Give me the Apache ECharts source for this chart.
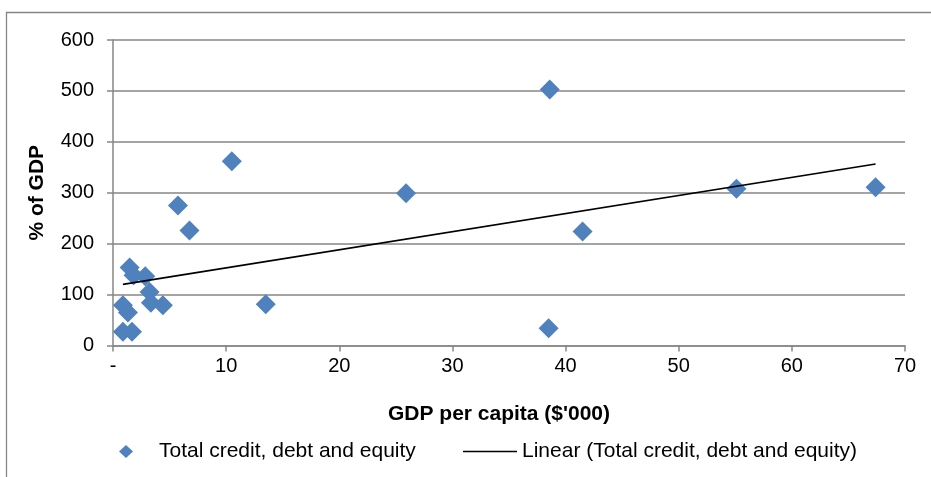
<!DOCTYPE html>
<html>
<head>
<meta charset="utf-8">
<script src="https://cdn.jsdelivr.net/npm/echarts@6/dist/echarts.min.js"></script>
<style>
html,body{margin:0;padding:0;background:#fff;}
#chart{width:931px;height:477px;}
</style>
</head>
<body>
<div id="chart"></div>
<script>
// Data
var gdpPerCapita = [0.88, 1.32, 0.88, 1.68, 1.47, 1.82, 2.85, 3.23, 3.35, 4.41, 5.74, 6.76, 10.5, 13.5, 25.9, 38.6, 38.5, 41.5, 55.1, 67.4];
var pctOfGdp     = [79, 65, 27, 27, 153, 138, 136, 105, 84, 79, 275, 226, 362, 81, 299, 503, 34, 224, 308, 311];
var trendX = [0.88, 67.4];
var trendY = [120, 356.5];
var seriesName = 'Total credit, debt and equity';
var trendName = 'Linear (Total credit, debt and equity)';
var xTickLabels = ['-', '10', '20', '30', '40', '50', '60', '70'];

var FONT = 'Liberation Sans, Arial, sans-serif';
var FS = 21;
var FS_TICK = 20;

var scatterData = gdpPerCapita.map(function (x, i) { return [x, pctOfGdp[i]]; });
var trendData = trendX.map(function (x, i) { return [x, trendY[i]]; });

var chart = echarts.init(document.getElementById('chart'), null, {renderer: 'canvas'});
chart.setOption({
  animation: false,
  backgroundColor: '#ffffff',
  graphic: [{
    type: 'rect',
    shape: {x: 6.5, y: 12.5, width: 1000, height: 600},
    style: {fill: 'none', stroke: '#868686', lineWidth: 1.3},
    silent: true
  }],
  grid: {left: 113, right: 26, top: 40, bottom: 131.5, containLabel: false},
  legend: [{
    data: [{name: seriesName, icon: 'diamond'}],
    left: 114, top: 436, padding: 5,
    itemWidth: 14, itemHeight: 13,
    textStyle: {fontFamily: FONT, fontSize: FS, color: '#000', padding: [0, 0, 0, 21]},
    selectedMode: false
  }, {
    data: [{name: trendName, icon: 'rect', itemStyle: {color: '#000'}}],
    left: 458, top: 436, padding: 5,
    itemWidth: 54, itemHeight: 1.7,
    textStyle: {fontFamily: FONT, fontSize: FS, color: '#000', padding: [0, 0, 0, 0]},
    selectedMode: false
  }],
  xAxis: {
    type: 'value', min: 0, max: 70, interval: 10,
    name: "GDP per capita ($'000)",
    nameLocation: 'middle', nameGap: 58,
    nameTextStyle: {fontFamily: FONT, fontSize: FS, fontWeight: 'bold', color: '#000', padding: [0, 20, 0, 0]},
    axisLine: {lineStyle: {color: '#868686', width: 1.5}},
    axisTick: {show: true, length: 6, lineStyle: {color: '#868686', width: 1.5}},
    axisLabel: {
      fontFamily: FONT, fontSize: FS_TICK, color: '#000', margin: 11,
      formatter: function (v) { return xTickLabels[Math.round(v / 10)]; }
    },
    splitLine: {show: false}
  },
  yAxis: {
    type: 'value', min: 0, max: 600, interval: 100,
    name: '% of GDP',
    nameLocation: 'middle', nameGap: 65, nameRotate: 90,
    nameTextStyle: {fontFamily: FONT, fontSize: FS, fontWeight: 'bold', color: '#000', padding: [0, 0, 0, 0]},
    axisLine: {show: true, lineStyle: {color: '#868686', width: 1.5}},
    axisTick: {show: true, length: 6, lineStyle: {color: '#868686', width: 1.5}},
    axisLabel: {fontFamily: FONT, fontSize: FS_TICK, color: '#000', margin: 19},
    splitLine: {show: true, lineStyle: {color: '#868686', width: 1.5}}
  },
  series: [{
    name: seriesName,
    type: 'scatter',
    symbol: 'diamond',
    symbolSize: 20,
    itemStyle: {color: '#4F81BD', opacity: 1},
    data: scatterData,
    z: 3
  }, {
    name: trendName,
    type: 'line',
    showSymbol: false,
    symbol: 'none',
    lineStyle: {color: '#000000', width: 1.7},
    itemStyle: {color: '#000000'},
    data: trendData,
    z: 4
  }]
});
</script>
</body>
</html>
